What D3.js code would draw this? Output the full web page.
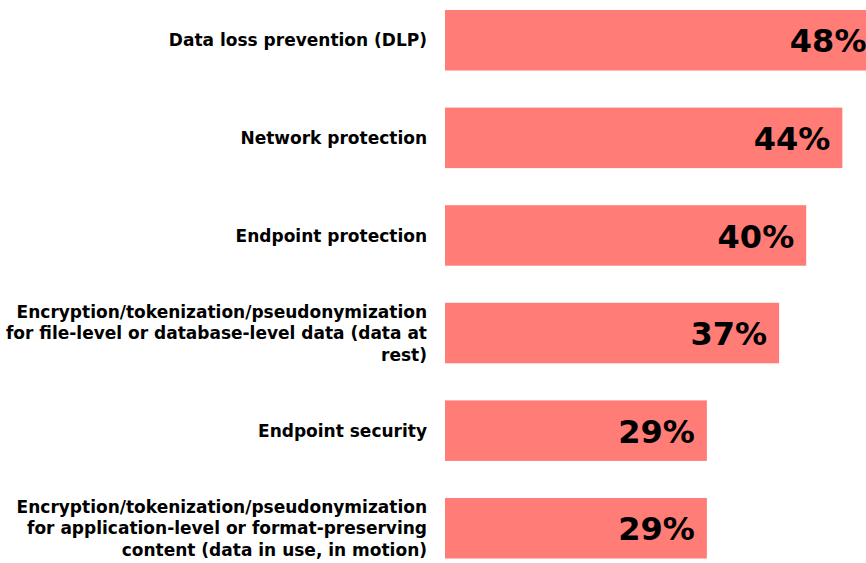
<!DOCTYPE html>
<html>
<head>
<meta charset="utf-8">
<script src="https://cdn.jsdelivr.net/npm/d3@7"></script>
<style>
  html, body { margin: 0; padding: 0; background: #fff; overflow: hidden; }
  svg { display: block; font-family: "DejaVu Sans", Verdana, sans-serif; }
</style>
</head>
<body>
<div id="chart"></div>
<script>
(function() {
"use strict";

const categories = [
  "Data loss prevention (DLP)",
  "Network protection",
  "Endpoint protection",
  "Encryption/tokenization/pseudonymization for file-level or database-level data (data at rest)",
  "Endpoint security",
  "Encryption/tokenization/pseudonymization for application-level or format-preserving content (data in use, in motion)"
];
const values = [48, 44, 40, 37, 29, 29];

const WIDTH = 866;
const HEIGHT = 563;
const BAR_LEFT = 445;
const PX_PER_PCT = 9.03;

const svg = d3.select("#chart")
  .append("svg")
  .attr("width", WIDTH)
  .attr("height", HEIGHT);

const xScale = d3.scaleLinear()
  .domain([0, 100])
  .range([BAR_LEFT, BAR_LEFT + 100 * PX_PER_PCT]);

const yScale = d3.scaleBand()
  .domain(categories)
  .range([10, 558.5])
  .paddingInner(0.38)
  .paddingOuter(0);

const data = categories.map((c, i) => ({ name: c, value: values[i] }));

svg.selectAll("rect.bar")
  .data(data)
  .enter()
  .append("rect")
    .attr("class", "bar")
    .attr("x", xScale(0))
    .attr("y", d => yScale(d.name))
    .attr("width", d => xScale(d.value) - xScale(0))
    .attr("height", yScale.bandwidth())
    .attr("fill", "#ff7c77");

svg.selectAll("text.value")
  .data(data)
  .enter()
  .append("text")
    .attr("class", "value")
    .attr("x", d => xScale(d.value) - 12)
    .attr("y", d => yScale(d.name) + yScale.bandwidth() / 2)
    .attr("dy", "0.38em")
    .attr("text-anchor", "end")
    .attr("font-size", 32)
    .attr("font-weight", "bold")
    .attr("fill", "#000")
    .text(d => d.value + "%");

// category labels, wrapped to the space left of the bars
const LABEL_RIGHT = 427;
const LINE_H = 21.5;
const labels = svg.selectAll("text.label")
  .data(data)
  .enter()
  .append("text")
    .attr("class", "label")
    .attr("text-anchor", "end")
    .attr("font-size", 17)
    .attr("font-weight", "bold")
    .attr("fill", "#000");

labels.each(function(d) {
  const el = d3.select(this);
  const words = d.name.split(" ");
  const lines = [];
  let line = [];
  const probe = el.append("tspan");
  words.forEach(w => {
    line.push(w);
    probe.text(line.join(" "));
    if (probe.node().getComputedTextLength() > 425 && line.length > 1) {
      line.pop();
      lines.push(line.join(" "));
      line = [w];
    }
  });
  lines.push(line.join(" "));
  probe.remove();
  const cy = yScale(d.name) + yScale.bandwidth() / 2;
  const y0 = cy - (lines.length - 1) * LINE_H / 2;
  lines.forEach((t, i) => {
    el.append("tspan")
      .attr("x", LABEL_RIGHT)
      .attr("y", y0 + i * LINE_H)
      .attr("dy", "0.36em")
      .text(t);
  });
});

})();
</script>
</body>
</html>
